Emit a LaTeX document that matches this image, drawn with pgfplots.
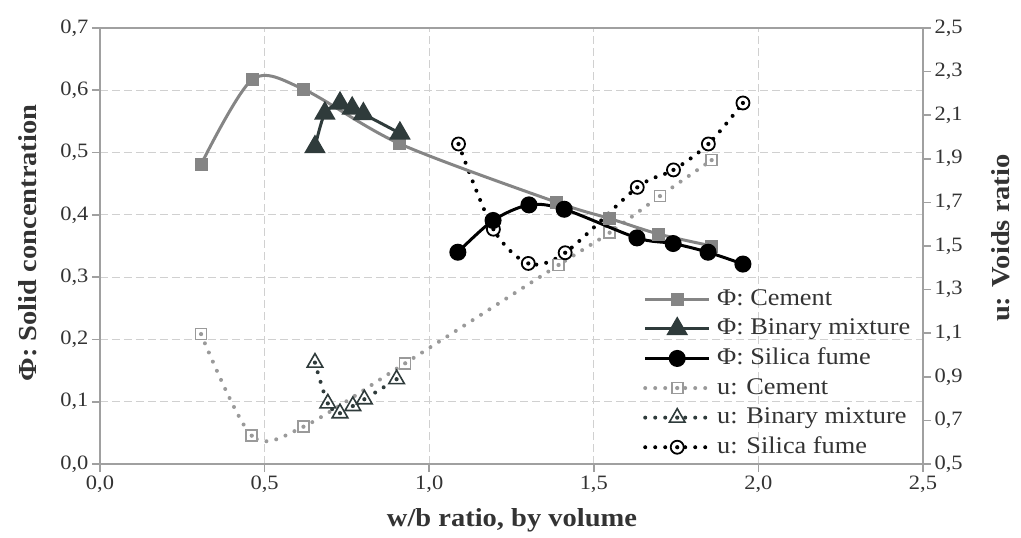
\documentclass[border=0pt]{standalone}
\usepackage{pgfplots}
\pgfplotsset{compat=1.18}
\usepackage{fontspec}
\setmainfont{Liberation Serif}[FakeStretch=1.1]
\definecolor{cem}{HTML}{858585}
\definecolor{bin}{HTML}{2F3B3B}
\definecolor{sil}{HTML}{000000}
\definecolor{ucem}{HTML}{9A9A9A}
\definecolor{gridc}{HTML}{D0D0D0}
\definecolor{axc}{HTML}{A0A0A0}
\definecolor{txt}{HTML}{333333}

\pgfdeclareplotmark{usq}{%
  \pgfpathrectangle{\pgfqpoint{-\pgfplotmarksize}{-\pgfplotmarksize}}{\pgfqpoint{2\pgfplotmarksize}{2\pgfplotmarksize}}%
  \pgfusepathqfillstroke
  \pgfscope\pgfsetfillcolor{ucem}%
  \pgfpathcircle{\pgfpointorigin}{2.1bp}\pgfusepathqfill\endpgfscope}
\pgfdeclareplotmark{utri}{%
  \pgfpathmoveto{\pgfqpointpolar{90}{\pgfplotmarksize}}%
  \pgfpathlineto{\pgfqpointpolar{-30}{\pgfplotmarksize}}%
  \pgfpathlineto{\pgfqpointpolar{210}{\pgfplotmarksize}}%
  \pgfpathclose
  \pgfusepathqfillstroke
  \pgfscope\pgfsetfillcolor{bin}%
  \pgfpathcircle{\pgfpointorigin}{2.1bp}\pgfusepathqfill\endpgfscope}
\pgfdeclareplotmark{ucirc}{%
  \pgfpathcircle{\pgfpointorigin}{\pgfplotmarksize}%
  \pgfusepathqfillstroke
  \pgfscope\pgfsetfillcolor{sil}%
  \pgfpathcircle{\pgfpointorigin}{2.1bp}\pgfusepathqfill\endpgfscope}

\pgfplotstableread{
x y
0.307 0.481
0.462 0.617
0.617 0.602
0.911 0.514
1.388 0.420
1.549 0.394
1.698 0.369
1.859 0.350
}\phicem
\pgfplotstableread{
x y
0.653 0.509
0.683 0.563
0.729 0.579
0.766 0.571
0.800 0.562
0.911 0.531
}\phibin
\pgfplotstableread{
x y
1.087 0.340
1.194 0.391
1.303 0.416
1.410 0.409
1.631 0.363
1.741 0.354
1.847 0.340
1.953 0.321
}\phisil
\pgfplotstableread{
x y
0.307 1.096
0.461 0.630
0.618 0.671
0.927 0.962
1.393 1.413
1.548 1.561
1.701 1.729
1.858 1.894
}\ucemt
\pgfplotstableread{
x y
0.653 0.965
0.692 0.778
0.729 0.733
0.768 0.766
0.803 0.797
0.901 0.889
}\ubint
\pgfplotstableread{
x y
1.089 1.968
1.195 1.577
1.301 1.420
1.413 1.469
1.632 1.769
1.742 1.849
1.848 1.968
1.953 2.156
}\usilt

\pgfplotsset{
  base/.style={
    at={(0,0)}, anchor=south west, scale only axis,
    width=823bp, height=436bp,
    xmin=0, xmax=2.5,
    axis line style={axc, line width=1.6bp},
    tick style={axc, line width=1.6bp},
    major tick length=8bp, tick align=outside,
    tick label style={font=\fontsize{20.5}{22}\selectfont, text=txt},
    label style={font=\bfseries\fontsize{26}{28}\selectfont, text=txt},
    /pgf/number format/.cd, fixed, fixed zerofill, precision=1, use comma, assume math mode=true,
  },
  legend image code/.code={%
    \draw[mark repeat=2,mark phase=2,#1] plot coordinates {(0bp,0bp) (32bp,0bp) (64bp,0bp)};},
  udot/.style={line width=4bp, line cap=round, dash pattern=on 0pt off 10bp},
  ucemst/.style={ucem, udot, smooth, mark=usq, mark size=5.5bp, mark options={solid, line width=1.6bp, fill=white, draw=ucem}},
  ubinst/.style={bin, udot, smooth, mark=utri, mark size=9bp, mark options={solid, line width=1.6bp, fill=white, draw=bin}},
  usilst/.style={sil, udot, smooth, mark=ucirc, mark size=6.5bp, mark options={solid, line width=1.8bp, fill=white, draw=sil}},
}

\begin{document}
\begin{tikzpicture}
% left axis with grid
\begin{axis}[base,
  ymin=0, ymax=0.7,
  xtick={0,0.5,1,1.5,2,2.5},
  ytick={0,0.1,0.2,0.3,0.4,0.5,0.6,0.7},
  xtick pos=left, ytick pos=left,
  grid=major,
  grid style={gridc, dash pattern=on 8bp off 4bp, line width=1.2bp},
  xlabel={w/b ratio, by volume},
  ylabel={Φ: Solid concentration},
  xlabel style={at={(axis description cs:0.5006,-0.128)}, anchor=center},
  ylabel style={at={(axis description cs:-0.0875,0.507)}, anchor=center},
]
\end{axis}
% right axis, voids ratio
\begin{axis}[base,
  ymin=0.5, ymax=2.5,
  hide x axis,
  axis y line*=right,
  ytick={0.5,0.7,0.9,1.1,1.3,1.5,1.7,1.9,2.1,2.3,2.5},
  ylabel={u: Voids ratio},
  ylabel style={at={(axis description cs:1.0948,0.518)}, anchor=center},
]
\addplot[ucemst] table[x=x,y=y] {\ucemt};
\addplot[ubinst] table[x=x,y=y] {\ubint};
\addplot[usilst] table[x=x,y=y] {\usilt};
\end{axis}
% solid concentration series and legend
\begin{axis}[base,
  ymin=0, ymax=0.7,
  hide axis,
  legend cell align=left,
  legend style={at={(axis description cs:0.6598,0.4036)}, anchor=north west,
    draw=none, fill=none, inner sep=0pt, row sep=7.6bp, column sep=6bp,
    font=\fontsize{24}{27}\selectfont, text=txt,
    nodes={inner sep=0pt, text height=17bp, text depth=5bp}},
]
\addplot[cem, line width=3bp, smooth, mark=square*, mark size=5bp, mark options={solid}] table[x=x,y=y] {\phicem};
\addlegendentry{Φ: Cement}
\addplot[bin, line width=3bp, smooth, mark=triangle*, mark size=9.5bp, mark options={solid}] table[x=x,y=y] {\phibin};
\addlegendentry{Φ: Binary mixture}
\addplot[sil, line width=3bp, smooth, mark=*, mark size=7bp, mark options={solid}] table[x=x,y=y] {\phisil};
\addlegendentry{Φ: Silica fume}
\addlegendimage{ucemst}
\addlegendentry{u: Cement}
\addlegendimage{ubinst}
\addlegendentry{u: Binary mixture}
\addlegendimage{usilst}
\addlegendentry{u: Silica fume}
\end{axis}
\pgfresetboundingbox
\path[use as bounding box] (-100bp,-74bp) rectangle (921bp,464bp);
\end{tikzpicture}
\end{document}
